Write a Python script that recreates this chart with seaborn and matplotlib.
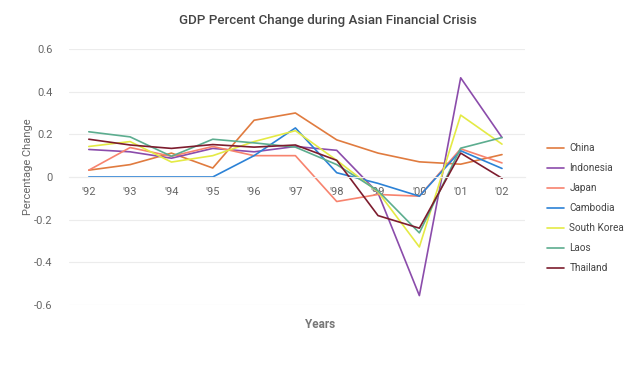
import pandas as pd
import numpy as np
import matplotlib
matplotlib.use('Agg')
import matplotlib.pyplot as plt
from matplotlib.ticker import FuncFormatter
import seaborn as sns

# ─── data ──────────────────────────────────────────────────────────────────────
years = ["'92", "'93", "'94", "'95", "'96", "'97", "'98", "'99", "'00", "'01", "'02"]
china       = [0.032, 0.058, 0.112, 0.042, 0.266, 0.300, 0.174, 0.112, 0.071, 0.060, 0.105]
indonesia   = [0.129, 0.118, 0.088, 0.134, 0.118, 0.143, 0.125, -0.075, -0.556, 0.465, 0.185]
japan       = [0.032, 0.138, 0.097, 0.143, 0.100, 0.100, -0.115, -0.082, -0.090, 0.132, 0.066]
cambodia    = [0.0, 0.0, 0.0, 0.0, 0.100, 0.230, 0.020, -0.030, -0.090, 0.123, 0.040]
south_korea = [0.143, 0.166, 0.070, 0.100, 0.166, 0.217, 0.078, -0.070, -0.328, 0.290, 0.154]
laos        = [0.212, 0.188, 0.097, 0.177, 0.160, 0.140, 0.058, -0.065, -0.262, 0.135, 0.185]
thailand    = [0.177, 0.150, 0.134, 0.152, 0.140, 0.150, 0.078, -0.181, -0.240, 0.112, -0.006]

countries = ['China', 'Indonesia', 'Japan', 'Cambodia', 'South Korea', 'Laos', 'Thailand']
series = [china, indonesia, japan, cambodia, south_korea, laos, thailand]
colors = ['#e07b3f', '#8b4cab', '#f7836e', '#2c82d6', '#e4ea45', '#5cad8f', '#7d1c2e']

df = pd.DataFrame({
    'year_idx': np.tile(np.arange(len(years)), len(countries)),
    'value': np.concatenate(series),
    'country': np.repeat(countries, len(years)),
})

# ─── style ─────────────────────────────────────────────────────────────────────
sns.set_style('white')
plt.rcParams['font.family'] = ['Roboto', 'DejaVu Sans']

TEXT = '#444444'
MUTED = '#666666'
GRID = '#ececec'

fig = plt.figure(figsize=(6.41, 3.91), dpi=100)
ax = fig.add_axes([0.1076, 0.22, 0.711, 0.6547])

sns.lineplot(data=df, x='year_idx', y='value', hue='country', hue_order=countries,
             palette=colors, linewidth=1.2, ax=ax, legend=True)

ax.set_ylim(-0.6, 0.6)
ax.set_xlim(-0.48, 10.55)
ax.set_yticks(np.arange(-0.6, 0.61, 0.2))
ax.yaxis.set_major_formatter(FuncFormatter(lambda v, p: '0' if abs(v) < 1e-9 else f'{v:.1f}'))
ax.set_xticks(range(len(years)))
ax.set_xticklabels(years)

ax.grid(axis='y', color=GRID, linewidth=0.8)
ax.set_axisbelow(True)
for s in ['top', 'right', 'left']:
    ax.spines[s].set_visible(False)
ax.spines['bottom'].set_position(('data', 0))
ax.spines['bottom'].set_color(GRID)
ax.spines['bottom'].set_linewidth(0.8)
ax.tick_params(axis='x', colors='#dddddd', direction='inout', length=6, width=0.8,
               labelcolor=MUTED, labelsize=8, pad=4)
ax.tick_params(axis='y', length=0, labelcolor=MUTED, labelsize=8, pad=12)

ax.set_xlabel('Years', fontsize=8.5, color='#777777', fontweight='bold')
ax.xaxis.set_label_coords(0.55, -0.05)
ax.set_ylabel('Percentage Change', fontsize=8, color=MUTED)
ax.yaxis.set_label_coords(-0.078, 0.54)

fig.text(0.512, 0.948, 'GDP Percent Change during Asian Financial Crisis',
         ha='center', va='center', fontsize=9.6, color=TEXT, fontweight='medium')

handles, labels = ax.get_legend_handles_labels()
ax.legend(handles, labels, loc='center left', bbox_to_anchor=(0.84, 0.468),
          bbox_transform=fig.transFigure, frameon=False, fontsize=7.2,
          labelcolor=TEXT, handlelength=1.7, handletextpad=0.5, labelspacing=1.0)

fig.savefig('out.png', dpi=100, facecolor='white')
plt.close(fig)
